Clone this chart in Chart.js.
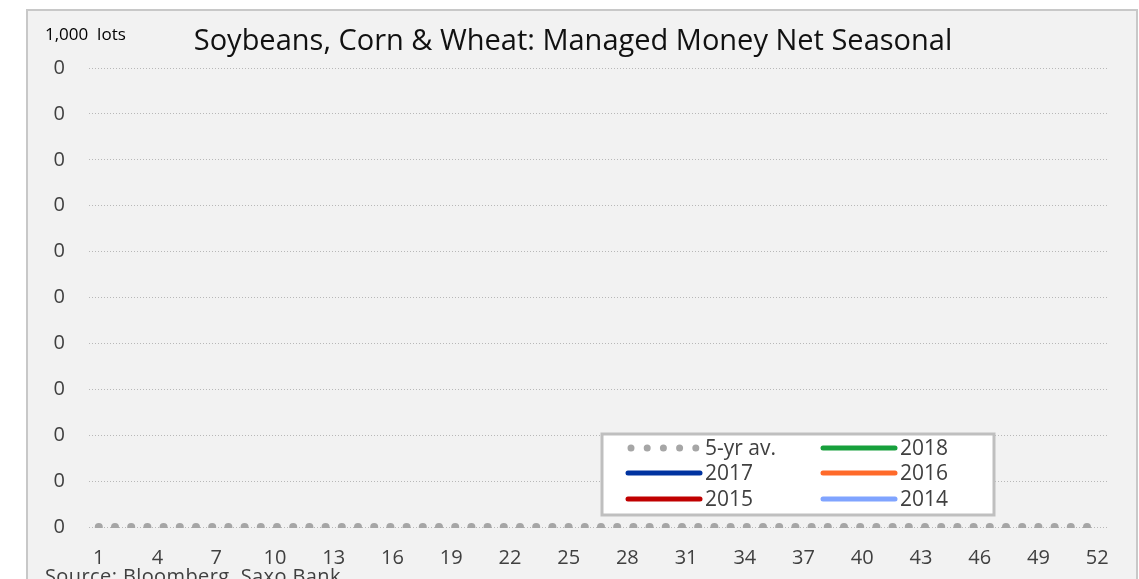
<!DOCTYPE html>
<html>
<head>
<meta charset="utf-8">
<script src="https://cdn.jsdelivr.net/npm/chart.js@4"></script>
<style>
  html, body { margin: 0; padding: 0; background: #ffffff; }
  #wrap { position: relative; width: 1139px; height: 579px; }
</style>
</head>
<body>
<div id="wrap"><canvas id="seasonalChart" width="1139" height="579"></canvas></div>
<script>
// Week numbers (x axis)
const weeks = [1,2,3,4,5,6,7,8,9,10,11,12,13,14,15,16,17,18,19,20,21,22,23,24,25,26,
  27,28,29,30,31,32,33,34,35,36,37,38,39,40,41,42,43,44,45,46,47,48,49,50,51,52];

// 5-yr average, 1,000 lots (flat at zero in the picture)
const avg5yr = [0,0,0,0,0,0,0,0,0,0,0,0,0,0,0,0,0,0,0,0,0,0,0,0,0,0,
  0,0,0,0,0,0,0,0,0,0,0,0,0,0,0,0,0,0,0,0,0,0,0,0,0,0];

// yearly series have no visible values
const y2018 = [];
const y2017 = [];
const y2016 = [];
const y2015 = [];
const y2014 = [];

const FONT = '"Open Sans", "Noto Sans", sans-serif';
const TEXT = '#404040';

// frame, title, unit and source text
const framePlugin = {
    id: 'frame',
    beforeDraw(chart) {
        const ctx = chart.ctx;
        ctx.save();
        ctx.fillStyle = '#f2f2f2';
        ctx.fillRect(27, 10, 1110, 580);
        ctx.strokeStyle = '#c8c8c8';
        ctx.lineWidth = 2;
        ctx.strokeRect(27, 10, 1110, 580);
        ctx.restore();
    },
    afterDraw(chart) {
        const ctx = chart.ctx;
        ctx.save();
        ctx.textBaseline = 'middle';
        ctx.fillStyle = '#000';
        ctx.font = '17px ' + FONT;
        ctx.textAlign = 'left';
        ctx.fillText('1,000  lots', 45, 35);
        ctx.font = '29px ' + FONT;
        ctx.textAlign = 'center';
        ctx.fillStyle = '#111';
        ctx.fillText('Soybeans, Corn & Wheat: Managed Money Net Seasonal', 573, 42);
        ctx.font = '20px ' + FONT;
        ctx.textAlign = 'left';
        ctx.fillStyle = TEXT;
        ctx.letterSpacing = '0.4px';
        ctx.fillText('Source: Bloomberg, Saxo Bank', 45, 577);
        ctx.restore();
    }
};

// legend box inside the plot, two columns
const legendPlugin = {
    id: 'boxLegend',
    afterDraw(chart) {
        const ctx = chart.ctx;
        ctx.save();
        ctx.fillStyle = '#ffffff';
        ctx.fillRect(602, 434, 392, 81);
        ctx.strokeStyle = '#bfbfbf';
        ctx.lineWidth = 3;
        ctx.strokeRect(602, 434, 392, 81);
        const cols = [628, 823];
        const rows = [448, 473, 499];
        ctx.font = '21px ' + FONT;
        ctx.textBaseline = 'middle';
        ctx.textAlign = 'left';
        chart.data.datasets.forEach((ds, i) => {
            const x = cols[i % 2];
            const y = rows[Math.floor(i / 2)];
            ctx.strokeStyle = ds.borderColor;
            ctx.lineCap = 'round';
            ctx.beginPath();
            if (ds.borderDash) {
                ctx.lineWidth = 7;
                ctx.setLineDash(ds.borderDash);
                ctx.moveTo(x + 3, y);
                ctx.lineTo(x + 70, y);
            } else {
                ctx.lineWidth = ds.borderWidth;
                ctx.setLineDash([]);
                ctx.moveTo(x, y);
                ctx.lineTo(x + 72, y);
            }
            ctx.stroke();
            ctx.setLineDash([]);
            ctx.fillStyle = TEXT;
            ctx.fillText(ds.label, x + 77, y + 1);
        });
        ctx.restore();
    }
};

function lineSet(label, data, color) {
    return {
        label: label,
        data: data,
        borderColor: color,
        backgroundColor: color,
        borderWidth: 5,
        pointRadius: 0,
        fill: false,
        tension: 0
    };
}

const ctx = document.getElementById('seasonalChart').getContext('2d');
new Chart(ctx, {
    type: 'line',
    data: {
        labels: weeks,
        datasets: [
            {
                label: '5-yr av.',
                data: avg5yr,
                borderColor: '#a6a6a6',
                backgroundColor: '#a6a6a6',
                borderWidth: 8,
                borderDash: [0, 16.2],
                borderCapStyle: 'round',
                pointRadius: 0,
                fill: false,
                clip: { left: 8, top: 8, right: 8, bottom: 1 }
            },
            lineSet('2018', y2018, '#17a03c'),
            lineSet('2017', y2017, '#0033a0'),
            lineSet('2016', y2016, '#ff6a2a'),
            lineSet('2015', y2015, '#c00000'),
            lineSet('2014', y2014, '#80a4ff')
        ]
    },
    options: {
        responsive: false,
        animation: false,
        layout: { padding: { left: 27, right: 32, top: 68, bottom: 2 } },
        plugins: {
            legend: { display: false },
            tooltip: { enabled: false }
        },
        scales: {
            x: {
                offset: true,
                grid: { display: false, drawTicks: false },
                border: { display: false },
                ticks: {
                    autoSkip: false,
                    maxRotation: 0,
                    padding: 19,
                    color: TEXT,
                    font: { family: FONT, size: 20 },
                    callback: function(v, i) { return i % 3 === 0 ? weeks[i] : null; }
                },
                afterFit: function(s) { s.height = 50; }
            },
            y: {
                min: 0,
                max: 0.1,
                grid: {
                    color: '#b8b8b8',
                    lineWidth: 1,
                    drawTicks: false
                },
                border: { display: false, dash: [1, 2] },
                ticks: {
                    stepSize: 0.01,
                    padding: 24,
                    color: TEXT,
                    font: { family: FONT, size: 20 },
                    callback: function(v) { return Math.round(v).toLocaleString('en-US'); }
                },
                afterFit: function(s) { s.width = 62; }
            }
        }
    },
    plugins: [framePlugin, legendPlugin]
});
</script>
</body>
</html>
